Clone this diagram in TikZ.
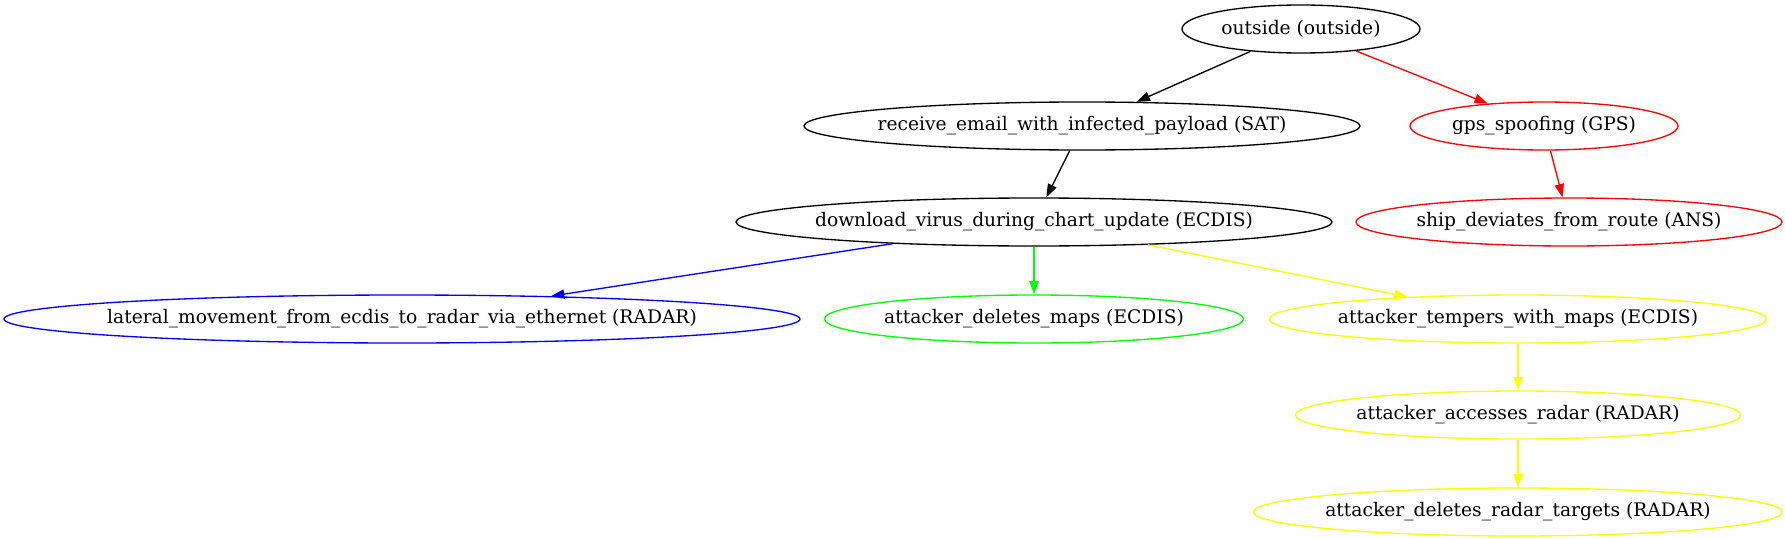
\documentclass[tikz,border=0pt]{standalone}
\usepackage{fontspec}
\setmainfont{DejaVu Serif}
\usetikzlibrary{shapes.geometric,arrows.meta}
\definecolor{gvgreen}{RGB}{0,255,0}
\definecolor{gvyellow}{RGB}{255,255,0}

\begin{document}
\begin{tikzpicture}[x=0.75pt, y=-0.75pt,
  attack/.style={ellipse, draw, line width=1pt, inner xsep=-14pt, inner ysep=2pt,
    minimum height=36pt, minimum width=#1*0.75pt,
    font=\fontsize{14}{16}\selectfont},
  link/.style={line width=1pt, -{Triangle[length=10pt,width=7pt]}}]
  \useasboundingbox (0,0) rectangle (1785,539);

  \node[attack=238] (outside) at (1301, 29) {outside (outside)};

  \node[attack=556] (email) at (1082, 126) {receive\_email\_with\_infected\_payload (SAT)};
  \node[attack=268, draw=red] (gps) at (1544, 126) {gps\_spoofing (GPS)};

  \node[attack=596] (virus) at (1034, 222) {download\_virus\_during\_chart\_update (ECDIS)};
  \node[attack=426, draw=red] (route) at (1569, 222) {ship\_deviates\_from\_route (ANS)};

  \node[attack=796, draw=blue] (lateral) at ( 402, 319) {lateral\_movement\_from\_ecdis\_to\_radar\_via\_ethernet (RADAR)};
  \node[attack=419, draw=gvgreen] (delmaps) at (1034, 319) {attacker\_deletes\_maps (ECDIS)};
  \node[attack=497, draw=gvyellow] (tempers) at (1518, 319) {attacker\_tempers\_with\_maps (ECDIS)};

  \node[attack=445, draw=gvyellow] (radar) at (1518, 415) {attacker\_accesses\_radar (RADAR)};
  \node[attack=529, draw=gvyellow] (targets) at (1518, 512) {attacker\_deletes\_radar\_targets (RADAR)};

  \draw[link] (outside) -- (email);
  \draw[link, red] (outside) -- (gps);
  \draw[link] (email) -- (virus);
  \draw[link, red] (gps) -- (route);

  \draw[link, blue] (virus) -- (lateral);
  \draw[link, gvgreen] (virus) -- (delmaps);
  \draw[link, gvyellow] (virus) -- (tempers);

  \draw[link, gvyellow] (tempers) -- (radar);
  \draw[link, gvyellow] (radar) -- (targets);
\end{tikzpicture}
\end{document}
